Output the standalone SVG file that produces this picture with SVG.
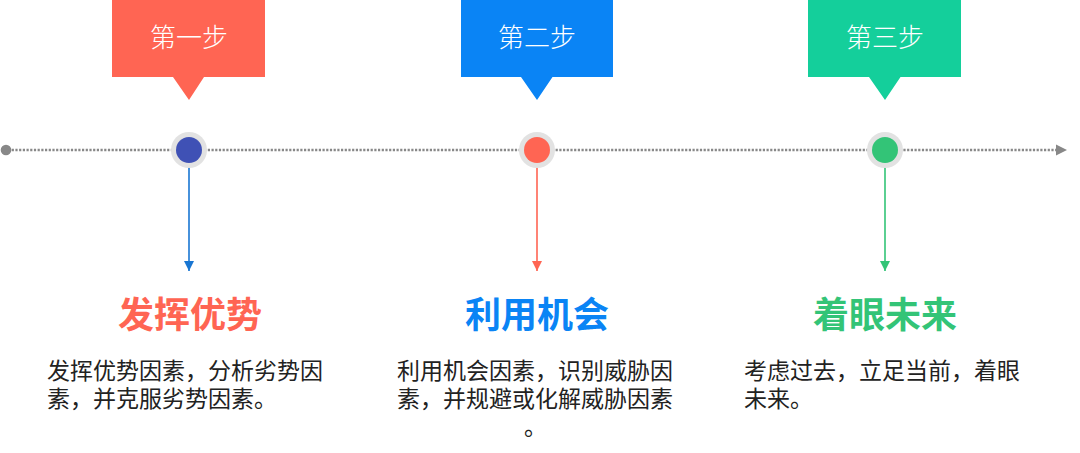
<svg xmlns="http://www.w3.org/2000/svg" width="1080" height="453" viewBox="0 0 1080 453">
<defs>
<style>
.step{font-family:"Noto Sans CJK SC","Noto Sans",sans-serif;font-size:26px;font-weight:300;fill:#fff;text-anchor:middle;}
.title{font-family:"Noto Sans CJK SC","Noto Sans",sans-serif;font-size:36px;font-weight:bold;text-anchor:middle;}
.body{font-family:"Noto Sans CJK SC","Noto Sans",sans-serif;font-size:23px;fill:#222;}
.ring{fill:#e2e2e2;}
</style>
<marker id="ah1" viewBox="0 0 10 10" refX="10" refY="5" markerWidth="10" markerHeight="10" markerUnits="userSpaceOnUse" orient="auto"><path d="M0,0 L10,5 L0,10 z" fill="#1976d2"/></marker>
<marker id="ah2" viewBox="0 0 10 10" refX="10" refY="5" markerWidth="10" markerHeight="10" markerUnits="userSpaceOnUse" orient="auto"><path d="M0,0 L10,5 L0,10 z" fill="#ff6553"/></marker>
<marker id="ah3" viewBox="0 0 10 10" refX="10" refY="5" markerWidth="10" markerHeight="10" markerUnits="userSpaceOnUse" orient="auto"><path d="M0,0 L10,5 L0,10 z" fill="#33c477"/></marker>
</defs>
<rect width="1080" height="453" fill="#fff"/>
<g id="connectors">
<circle cx="6" cy="150" r="5.3" fill="#888"/>
<line x1="8" y1="150" x2="1057" y2="150" stroke="#888" stroke-width="2.4" stroke-dasharray="2.2 1.5"/>
<path d="M1056,144.5 L1067,150 L1056,155.5 z" fill="#888"/>
<line x1="189" y1="164" x2="189" y2="271" stroke="#1976d2" stroke-width="1.6" marker-end="url(#ah1)"/>
<line x1="537" y1="164" x2="537" y2="271" stroke="#ff6553" stroke-width="1.6" marker-end="url(#ah2)"/>
<line x1="885" y1="164" x2="885" y2="271" stroke="#33c477" stroke-width="1.6" marker-end="url(#ah3)"/>
</g>
<g id="step1">
<path d="M112,0 H265 V77 H204 L189,100 L173,77 H112 z" fill="#ff6553"/>
<text class="step" x="189" y="47">第一步</text>
</g>
<g id="step2">
<path d="M461,0 H613 V77 H552.5 L537,100 L521,77 H461 z" fill="#0a84f5"/>
<text class="step" x="537" y="47">第二步</text>
</g>
<g id="step3">
<path d="M808,0 H961 V77 H900.5 L885,100 L869,77 H808 z" fill="#14cf9b"/>
<text class="step" x="885" y="47">第三步</text>
</g>
<g id="dot1">
<circle class="ring" cx="189" cy="150" r="18"/>
<circle cx="189" cy="150" r="13" fill="#3f51b5"/>
</g>
<g id="dot2">
<circle class="ring" cx="537" cy="150" r="18"/>
<circle cx="537" cy="150" r="13" fill="#ff6553"/>
</g>
<g id="dot3">
<circle class="ring" cx="885" cy="150" r="18"/>
<circle cx="885" cy="150" r="13" fill="#33c477"/>
</g>
<g id="item1">
<text class="title" x="190" y="328" fill="#ff6553">发挥优势</text>
<text class="body" x="47" y="379">发挥优势因素，分析劣势因</text>
<text class="body" x="47" y="407">素，并克服劣势因素。</text>
</g>
<g id="item2">
<text class="title" x="537" y="328" fill="#0a84f5">利用机会</text>
<text class="body" x="397" y="379">利用机会因素，识别威胁因</text>
<text class="body" x="397" y="407">素，并规避或化解威胁因素</text>
<text class="body" x="524" y="435">。</text>
</g>
<g id="item3">
<text class="title" x="885" y="328" fill="#33c477">着眼未来</text>
<text class="body" x="744" y="379">考虑过去，立足当前，着眼</text>
<text class="body" x="744" y="407">未来。</text>
</g>
</svg>
